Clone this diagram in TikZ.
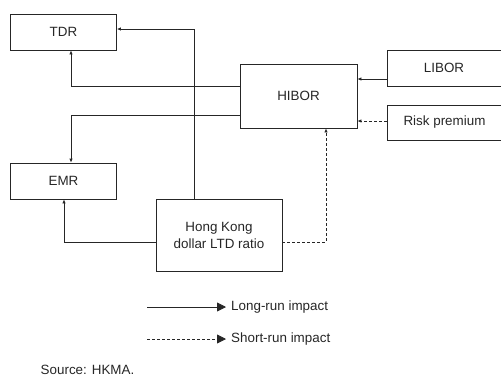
\documentclass[tikz,border=0pt]{standalone}
\usepackage{fontspec}
\setmainfont{Liberation Sans}
\usetikzlibrary{arrows.meta}
\begin{document}
\begin{tikzpicture}[x=1pt,y=-1pt,
  every node/.style={font=\fontsize{13.4}{17}\selectfont, text=black!85},
  box/.style={draw=black!85, line width=0.8pt, inner sep=0pt, align=center},
  conn/.style={draw=black!85, line width=0.8pt, -{Latex[length=4pt,width=3.5pt]}},
  short/.style={dash pattern=on 3pt off 2pt},
  legarr/.style={draw=black!85, line width=0.8pt, -{Triangle[length=9pt,width=9pt]}}]
\useasboundingbox (0,0) rectangle (501,376);
\node[box, minimum width=106, minimum height=36] (tdr) at (63.5,32) {TDR};
\node[box, minimum width=106, minimum height=36] (emr) at (63.5,181) {EMR};
\node[box, minimum width=117, minimum height=64] (hibor) at (298.5,96) {HIBOR};
\node[box, minimum width=116, minimum height=36] (libor) at (445,68) {};
\node (libort) at (444,68) {LIBOR};
\node[box, minimum width=116, minimum height=35] (risk) at (445,122.5) {};
\node (riskt) at (444.5,122.5) {Risk premium};
\node[box, minimum width=126, minimum height=72] (hk) at (219,235) {Hong Kong\\dollar LTD ratio};
% connectors
\draw[conn] (hk.north -| 194,0) |- (tdr.east |- 0,29);
\draw[conn] (hibor.west |- 0,86) -| (tdr.south -| 71,0);
\draw[conn] (hibor.west |- 0,115) -| (emr.north -| 71,0);
\draw[conn] (hk.west |- 0,242) -| (emr.south -| 64,0);
\draw[conn] (libor.west |- 0,79) -- (hibor.east |- 0,79);
\draw[conn, short] (risk.west |- 0,121) -- (hibor.east |- 0,121);
\draw[conn, short] (hk.east |- 0,242) -| (hibor.south -| 326,0);
% legend
\coordinate (l1a) at (147,307);
\coordinate (l1b) at (226,307);
\coordinate (l2a) at (147,339);
\coordinate (l2b) at (226,339);
\draw[legarr] (l1a) -- (l1b);
\draw[legarr, short] (l2a) -- (l2b);
\node[anchor=west, inner sep=0pt] (lt1) at (231,307) {Long-run impact};
\node[anchor=west, inner sep=0pt] (lt2) at (231,339) {Short-run impact};
\node[anchor=west, inner sep=0pt] (src) at (40.5,370) {Source: HKMA.};
\end{tikzpicture}
\end{document}
